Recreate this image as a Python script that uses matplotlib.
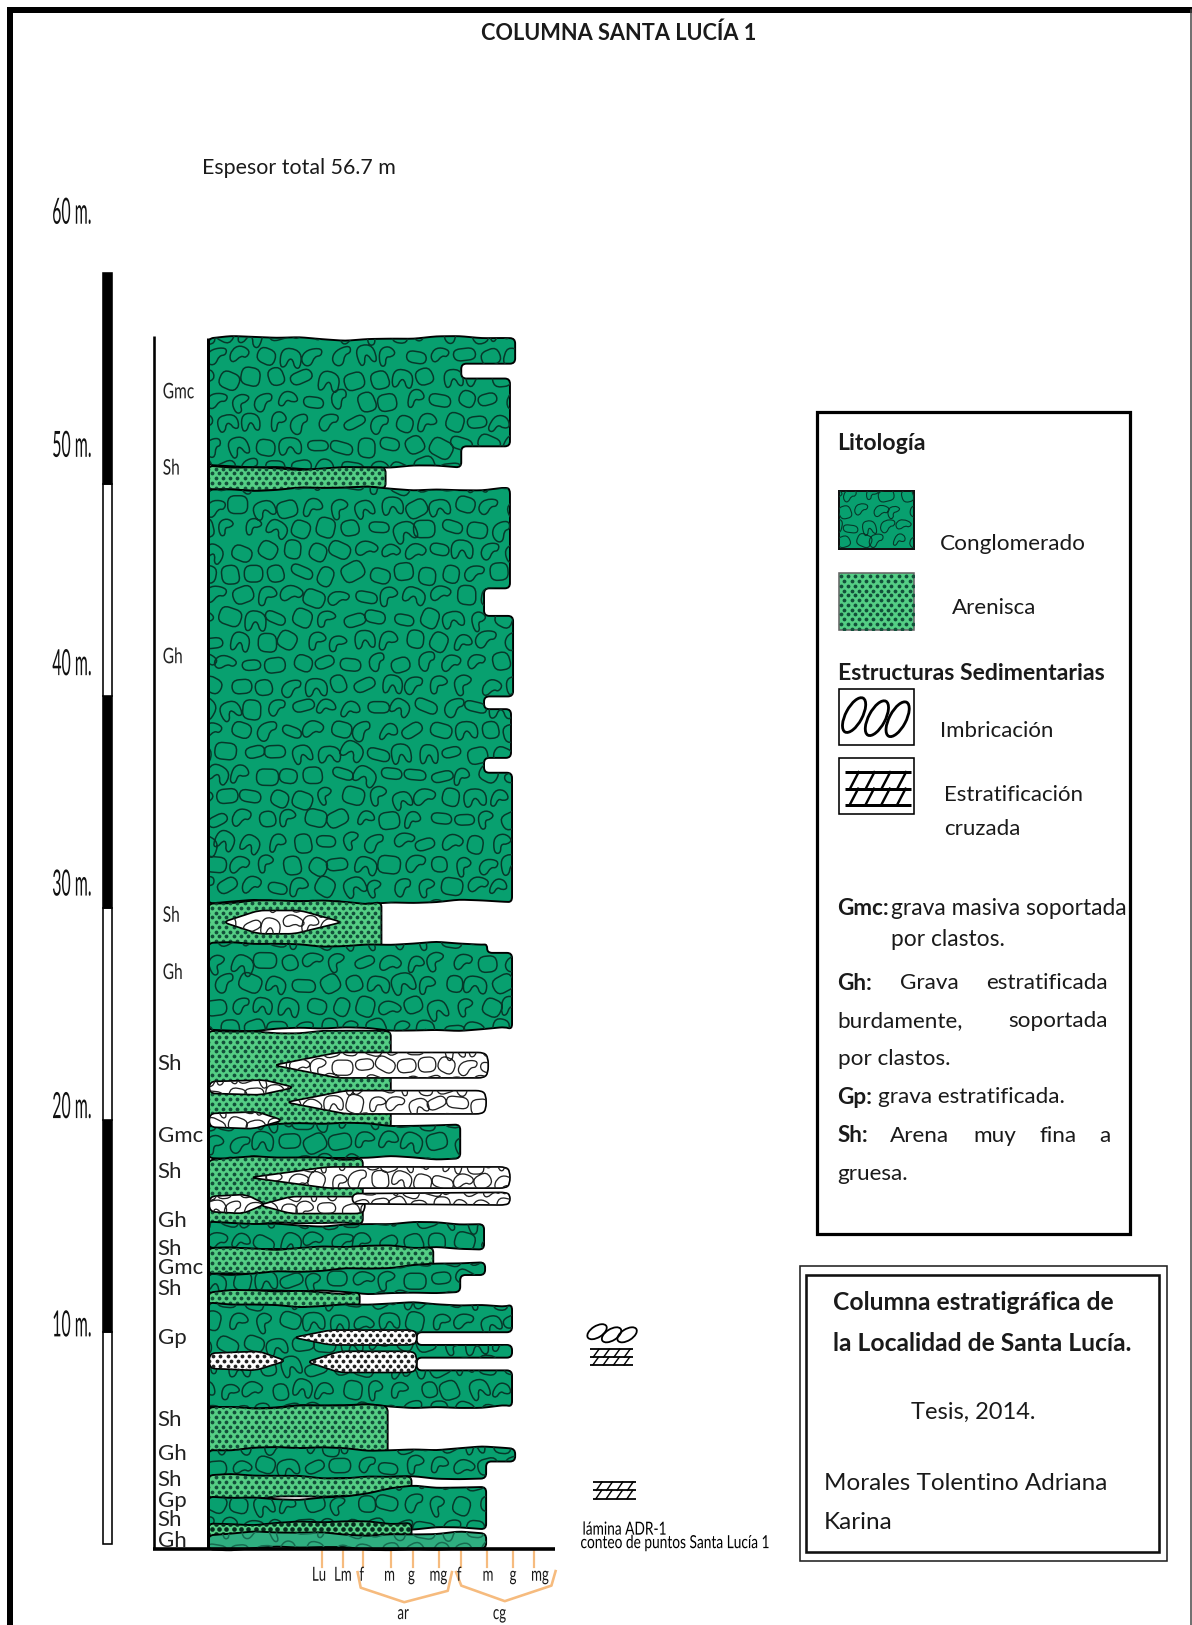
import numpy as np
import matplotlib
matplotlib.use('Agg')
import matplotlib.pyplot as plt
from matplotlib.path import Path
from matplotlib.patches import PathPatch, Rectangle, Ellipse
from matplotlib.patheffects import AbstractPathEffect
from matplotlib.transforms import Affine2D

# columna: cada escalon = (unidad, base, techo en metros, borde derecho)
unit_rock = ['cg', 'ar', 'cg', 'ar', 'cg', 'ar', 'cg', 'ar', 'cg', 'ar', 'cg', 'ar', 'cg', 'ar', 'cg', 'ar', 'cg', 'ar2', 'cg2']
step_unit = [0, 0, 0, 0, 1, 2, 2, 2, 2, 2, 2, 2, 3, 4, 4, 5, 6, 7, 8, 9, 10, 10, 11, 12, 12, 12, 12, 12, 13, 14, 14, 15, 16, 17, 18]
step_top = [56.9, 55.7, 55.0, 51.8, 50.8, 49.8, 45.1, 43.8, 40.0, 39.4, 37.1, 36.4, 30.3, 28.3, 27.9, 24.2, 19.8, 18.2, 15.1, 14.0, 13.3, 12.7, 11.9, 11.3, 10.0, 9.4, 8.8, 8.2, 6.5, 4.5, 3.9, 3.2, 2.7, 1.0, 0.5]
step_bot = [55.7, 55.0, 51.8, 50.8, 49.8, 45.1, 43.8, 40.0, 39.4, 37.1, 36.4, 30.3, 28.1, 27.9, 24.3, 19.6, 18.2, 15.1, 13.9, 12.8, 12.7, 11.9, 11.2, 10.0, 9.4, 8.8, 8.2, 6.5, 4.2, 3.9, 3.1, 2.2, 0.7, 0.2, -0.2]
step_right = [497, 445, 492, 445, 372, 492, 467, 495, 467, 493, 467, 494, 368, 470, 494, 377, 444, 350, 467, 418, 468, 444, 347, 494, 402, 494, 402, 494, 374, 497, 469, 397, 469, 397, 469]
# techos inclinados: la unidad baja hacia la izquierda
slope_unit = [10, 16]
slope_left = [12.8, 2.2]
slope_from = [300, 330]
slope_to = [420, 400]

# lentes blancos dentro de las capas
lens_left = [215, 264, 202, 276, 202, 241, 202, 250, 340, 283, 202, 296]
lens_right = [330, 471, 284, 469, 273, 492, 256, 352, 492, 402, 276, 402]
lens_bot = [28.8, 22.0, 21.2, 20.3, 19.6, 16.8, 15.6, 15.6, 16.0, 9.4, 8.2, 8.1]
lens_top = [29.9, 23.2, 21.9, 21.4, 20.4, 17.8, 16.5, 16.4, 16.6, 10.1, 9.1, 9.1]
lens_tip = ['LR', 'L', 'R', 'L', 'R', 'L', 'R', 'L', '', 'L', 'R', 'L']
lens_rock = ['cg', 'cg', 'cg', 'cg', 'cg', 'cg', 'cg', 'cg', 'cg', 'ar', 'ar', 'ar']

scale_tops = [10, 20, 30, 40, 50, 60]
scale_colors = ['white', 'black', 'white', 'black', 'white', 'black']
scale_label_y = [10.3, 20.6, 31.1, 41.5, 51.8, 62.8]

facies_narrow = ['Gmc', 'Sh', 'Gh', 'Sh', 'Gh']
facies_narrow_y = [54.4, 50.8, 41.9, 29.7, 27.0]
facies = ['Sh', 'Gmc', 'Sh', 'Gh', 'Sh', 'Gmc', 'Sh', 'Gp', 'Sh', 'Gh', 'Sh', 'Gp', 'Sh', 'Gh']
facies_y = [22.7, 19.3, 17.6, 15.3, 14.0, 13.1, 12.1, 9.8, 5.9, 4.3, 3.1, 2.1, 1.2, 0.2]

grain_labels = ['Lu', 'Lm', 'f', 'm', 'g', 'mg', 'f', 'm', 'g', 'mg']
grain_x = [311, 331, 350, 377, 398, 424, 445, 470, 495, 515]

VERDE = '#08a06f'
VERDE2 = '#2fae80'
ARENA = '#55cf85'
LINEA = '#07382a'
NARANJA = '#f6bb7e'
MPX = 20.45   # pixeles por metro
SANS = ['Lato', 'DejaVu Sans']
px = 0.72


class Squeeze(AbstractPathEffect):
    # angosta el texto en horizontal, sigue siendo texto
    def __init__(self, sx, center=False):
        super().__init__()
        self.sx = sx
        self.center = center

    def draw_path(self, renderer, gc, tpath, affine, rgbFace=None):
        tr = Affine2D().scale(self.sx, 1)
        if self.center:
            tr = tr.translate(tpath.get_extents().x1 * (1 - self.sx) / 2, 0)
        renderer.draw_path(gc, tpath, tr + affine, rgbFace)


fig = plt.figure(figsize=(11.92, 16.25), dpi=100, facecolor='white')
page = fig.add_axes([0, 0, 1, 1])
page.set_xlim(0, 1150)
page.set_ylim(1568, 0)
page.axis('off')
ax = fig.add_axes([0, 0, 1, 1], zorder=2)
ax.set_xlim(0, 1150)
ax.set_ylim((1490 - 1568) / MPX, 1490 / MPX)
ax.axis('off')


def rounded(verts, r, ysc=1.0):
    # poligono cerrado con esquinas suaves (curvas cuadraticas)
    v = [np.array(p, float) for p in verts]
    n = len(v)
    pts, codes = [], []
    for i in range(n):
        a, b, c = v[i - 1], v[i], v[(i + 1) % n]
        da = (a - b) * [1, ysc]
        dc = (c - b) * [1, ysc]
        la, lc = np.hypot(*da), np.hypot(*dc)
        ra, rc = min(r, la / 2), min(r, lc / 2)
        p1 = b + (a - b) * (ra / max(la, 1e-6))
        p2 = b + (c - b) * (rc / max(lc, 1e-6))
        pts.append(p1)
        codes.append(Path.MOVETO if i == 0 else Path.LINETO)
        pts += [b, p2]
        codes += [Path.CURVE3, Path.CURVE3]
    pts.append(pts[0])
    codes.append(Path.CLOSEPOLY)
    return Path(pts, codes)


blobs = [
    [(-1, -.8), (1, -.8), (1, .8), (-1, .8)],
    [(-1, .9), (-1, -.6), (-.2, -1), (1, -.6), (1, .9), (.45, .9), (.2, .1), (-.2, .1), (-.45, .9)],
    [(-1, -.2), (-.3, -.9), (1, -.7), (.8, .1), (.2, 0), (-.3, .9), (-.9, .7)],
    [(-.8, -.9), (.8, -.9), (.9, .9), (-.8, .8)],
    [(-1.1, -.5), (.9, -.7), (1.1, .4), (-.9, .6)],
    [(-.9, .8), (-.8, -.7), (.2, -1), (.9, -.3), (.4, .1), (-.2, 0), (-.3, .9)],
]


def jit(i, j, k):
    # desplazamiento fijo de la textura, no son datos
    s = np.sin(i * 12.9898 + j * 78.233 + k * 37.719) * 43758.5453
    return s - np.floor(s)


def clasts(host, tr, x0, x1, y0, y1, clip, sp=24.0, zorder=3, color=LINEA, lw=1.5, scale=1.0):
    paths = []
    rows = int((y1 - y0) / (sp * .9)) + 2
    cols = int((x1 - x0) / sp) + 2
    for j in range(rows):
        for i in range(cols):
            ii, jj = i + int(x0 / sp), j + int(y0 / sp)
            cx = x0 + i * sp + (j % 2) * sp * .5 + (jit(ii, jj, 1) - .5) * 6
            cy = y0 + j * sp * .9 + (jit(ii, jj, 2) - .5) * 5
            t = int(jit(ii, jj, 3) * len(blobs))
            ang = (jit(ii, jj, 4) - .5) * 1.0
            sx = (8.6 + 2.6 * jit(ii, jj, 5)) * scale
            sy = (8.4 + 2.4 * jit(ii, jj, 6)) * scale
            ca, sa = np.cos(ang), np.sin(ang)
            pts = []
            for (a, b) in blobs[t]:
                a, b = a * sx, b * sy
                pts.append((cx + a * ca - b * sa, cy + a * sa + b * ca))
            paths.append(rounded(pts, 7 * scale))
    p = PathPatch(Path.make_compound_path(*paths), fc='none', ec=color, lw=lw * px, transform=tr, zorder=zorder)
    host.add_patch(p)
    p.set_clip_path(clip)


def dots(host, tr, x0, x1, y0, y1, clip, zorder=3, s=7.5, color='#12503a'):
    xs, ys = [], []
    y, j = y0, 0
    while y < y1:
        row = np.arange(x0 + (j % 2) * 3.5, x1, 7.0)
        xs += list(row)
        ys += [y] * len(row)
        y += 4.6
        j += 1
    c = host.scatter(xs, ys, s=s, c=color, marker='o', linewidths=0, transform=tr, zorder=zorder)
    c.set_clip_path(clip)


def wave(x0, x1, y, phase, amp=1.6):
    xs = np.arange(x0, x1, 22.0)
    return [(x, y + amp / MPX * np.sin(x / 31.0 + phase) + .6 * amp / MPX * np.sin(x / 11.0 + phase * 2)) for x in xs]


# capas, de arriba a abajo
step_unit = np.array(step_unit)
for u, rock in enumerate(unit_rock):
    idx = np.where(step_unit == u)[0]
    tops = [step_top[i] for i in idx]
    bots = [step_bot[i] for i in idx]
    rights = [step_right[i] for i in idx]
    verts = wave(201, rights[0] - 4, tops[0], u * 1.7)
    if u in slope_unit:
        k = slope_unit.index(u)
        drop = np.interp([p[0] for p in verts], [slope_from[k], slope_to[k]], [tops[0] - slope_left[k], 0])
        verts = [(p[0], p[1] - d) for p, d in zip(verts, drop)]
    verts.append((rights[0], tops[0]))
    for k in range(len(idx)):
        verts.append((rights[k], bots[k]))
        if k + 1 < len(idx):
            verts.append((rights[k + 1], bots[k]))
    verts += wave(201, rights[-1] - 4, bots[-1], u * 2.3 + 1)[::-1]
    fill = {'cg': VERDE, 'cg2': VERDE2, 'ar': ARENA, 'ar2': ARENA}[rock]
    z = 2 + (0.1 * u)
    patch = PathPatch(rounded(verts, 5, MPX), fc=fill, ec='black', lw=1.9 * px, zorder=z + .05)
    ax.add_patch(patch)
    ytop, ybot = 1490 - max(tops) * MPX, 1490 - min(bots) * MPX
    if rock in ('cg', 'cg2'):
        clasts(ax, page.transData, 196, max(rights) + 6, ytop - 4, ybot + 6, patch, zorder=z + .06,
               color=LINEA if rock == 'cg' else '#176b50')
    else:
        dots(ax, page.transData, 201, max(rights) + 4, ytop + 1, ybot + 2, patch, zorder=z + .06,
             s=7.5 if rock == 'ar' else 11, color='#12503a' if rock == 'ar' else '#06291d')

# lentes
for i in range(len(lens_left)):
    l, r, b, t = lens_left[i], lens_right[i], lens_bot[i], lens_top[i]
    w, m = r - l, (b + t) / 2
    verts = []
    if 'L' in lens_tip[i]:
        verts += [(l, m), (l + .3 * w, t)]
    else:
        verts += [(l, b + .1 * (t - b)), (l, t - .1 * (t - b))]
    if 'R' in lens_tip[i]:
        verts += [(l + .65 * w, t), (r, m), (l + .6 * w, b)]
    else:
        verts += [(r - 4, t), (r, t - .2 * (t - b)), (r, b + .2 * (t - b)), (r - 4, b)]
    if 'L' in lens_tip[i]:
        verts += [(l + .3 * w, b)]
    patch = PathPatch(rounded(verts, 6, MPX), fc='white', ec='black', lw=1.7 * px, zorder=5 + i * .01)
    ax.add_patch(patch)
    ytop, ybot = 1490 - t * MPX, 1490 - b * MPX
    if lens_rock[i] == 'cg':
        clasts(ax, page.transData, l - 4, r + 4, ytop - 4, ybot + 4, patch, sp=20, zorder=5.005 + i * .01,
               color='#222222', lw=1.3, scale=.95)
    else:
        dots(ax, page.transData, l, r, ytop, ybot, patch, zorder=5.005 + i * .01, s=7.5, color='#222222')

# escala grafica, barras en metros
for top, col in zip(scale_tops, scale_colors):
    ax.bar(103.5, 10, bottom=top - 10, width=9, color=col, edgecolor='black', linewidth=1.6 * px, zorder=2)

for val, y in zip(scale_tops, scale_label_y):
    ax.text(70, y, '%d m.' % val, family=SANS, fontsize=26, ha='center', va='center', color='#111111',
            path_effects=[Squeeze(.44, True)])

for name, y in zip(facies_narrow, facies_narrow_y):
    ax.text(157, y - .05, name, family=SANS, fontsize=15.5, ha='left', va='center', color='#222222',
            path_effects=[Squeeze(.72)])
for name, y in zip(facies, facies_y):
    ax.text(152, y - .05, name, family=SANS, fontsize=16, ha='left', va='center', color='#222222')

# ejes de la columna
ax.plot([149, 149], [57.0, -0.25], color='black', lw=2.6 * px, zorder=6, solid_capstyle='butt')
ax.plot([201, 201], [56.9, -0.25], color='black', lw=3 * px, zorder=9, solid_capstyle='butt')
ax.plot([148, 535], [-0.25, -0.25], color='black', lw=3.6 * px, zorder=9, solid_capstyle='butt')

# marco de la pagina
page.plot([9.5, 9.5, 1150], [1568, 9.5, 9.5], color='black', lw=6 * px, solid_joinstyle='miter')
page.plot([1149, 1149], [10, 1568], color='#444444', lw=1.5 * px)


def label(x, y, s, size=16, bold=False, ha='left', sx=None, color='#1a1a1a'):
    fx = [Squeeze(sx, ha == 'center')] if sx else None
    page.text(x - 1, y + 1, s, family=SANS, fontsize=size, fontweight='bold' if bold else 'normal',
              ha=ha, va='center', color=color, path_effects=fx)


label(598, 31, 'COLUMNA SANTA LUCÍA 1', 15.7, True, 'center')
label(196, 161, 'Espesor total 56.7 m', 15.4)

# escala de grano
for x in grain_x:
    page.plot([x, x], [1497, 1512], color=NARANJA, lw=2.2 * px)
grain_text_x = [309, 332, 350, 377, 398, 424, 444, 472, 496, 522]
for x, s in zip(grain_text_x, grain_labels):
    label(x, 1519, s, 14, ha='center', sx=.68)
page.plot([345, 348, 390, 432, 436], [1517, 1532, 1546, 1535, 1517], color=NARANJA, lw=2.6 * px)
page.plot([440, 445, 487, 532, 536], [1517, 1530, 1545, 1530, 1516], color=NARANJA, lw=2.6 * px)
label(390, 1556, 'ar', 14, ha='center', sx=.68)
label(483, 1556, 'cg', 14, ha='center', sx=.68)


def cross(x0, x1, y0, y1, lw):
    ym = (y0 + y1) / 2
    for y in (y0, ym, y1):
        page.plot([x0, x1], [y, y], color='black', lw=lw * px, solid_capstyle='butt')
    dx = (x1 - x0) / 4.2
    for row, (a, b) in enumerate(((y0, ym), (ym, y1))):
        for k in range(4):
            xb = x0 + (0.55 - .05 * row) * dx * .6 + k * dx
            page.plot([xb, xb + dx * .55], [b, a], color='black', lw=lw * .8 * px)


# columna de simbolos
for cx, cy in zip((576, 590, 605), (1285, 1288, 1288)):
    page.add_patch(Ellipse((cx, cy), 21, 11, angle=-32, fc='none', ec='black', lw=1.8 * px))
cross(569, 611, 1302, 1317, 1.8)
cross(572, 614, 1430, 1446, 1.8)
label(563, 1475, 'lámina ADR-1', 13, sx=.76, color='black')
label(561, 1488, 'conteo de puntos Santa Lucía 1', 13, sx=.76, color='black')

# leyenda
page.add_patch(Rectangle((788, 398), 302.5, 793, fc='none', ec='black', lw=3.2 * px))
label(809, 427, 'Litología', 16.6, True)

sw1 = Rectangle((809, 474), 73, 56, fc=VERDE, ec='#111111', lw=2 * px, zorder=2)
page.add_patch(sw1)
clasts(page, page.transData, 806, 888, 478, 532, sw1, sp=17, zorder=3, scale=.7, lw=1.1)
sw2 = Rectangle((809, 553), 73, 55, fc=ARENA, ec='#666666', lw=1.6 * px, zorder=2)
page.add_patch(sw2)
dots(page, page.transData, 811, 882, 556, 608, sw2, zorder=3, s=7.5)
label(908, 524, 'Conglomerado', 16.2)
label(919, 586, 'Arenisca', 16)
label(809, 649, 'Estructuras Sedimentarias', 16.6, True)
page.add_patch(Rectangle((809, 665), 73, 54, fc='none', ec='black', lw=1.6 * px))
for cx, cy in zip((824, 846, 866), (690, 693, 694)):
    page.add_patch(Ellipse((cx, cy), 37, 16, angle=-62, fc='none', ec='black', lw=2.8 * px))
page.add_patch(Rectangle((809, 731), 73, 54, fc='none', ec='black', lw=1.6 * px))
cross(815, 879, 745, 777, 3.0)
label(908, 704, 'Imbricación', 16)
label(912, 766, 'Estratificación', 16)
label(912, 799, 'cruzada', 16)

label(809, 876, 'Gmc:', 16.2, True)
label(861, 876, 'grava masiva soportada', 16.4)
label(861, 906, 'por clastos.', 16.4)
label(809, 948, 'Gh:', 16.2, True)
label(869, 948, 'Grava', 16.2)
label(952, 948, 'estratificada', 16.2)
label(809, 984, 'burdamente,', 16.2)
label(974, 984, 'soportada', 16.2)
label(809, 1021, 'por clastos.', 16.2)
label(809, 1058, 'Gp:', 16.2, True)
label(848, 1058, 'grava estratificada.', 16.2)
label(809, 1095, 'Sh:', 16.2, True)
label(860, 1095, 'Arena', 16.2)
label(940, 1095, 'muy', 16.2)
label(1004, 1095, 'fina', 16.2)
label(1062, 1095, 'a', 16.2)
label(809, 1132, 'gruesa.', 16.2)

# recuadro de titulo
page.add_patch(Rectangle((772, 1222), 353.5, 284, fc='none', ec='#222222', lw=1.6 * px))
page.add_patch(Rectangle((778, 1230), 340, 268, fc='none', ec='#111111', lw=2.6 * px))
label(805, 1256, 'Columna estratigráfica de', 17.7, True)
label(805, 1295, 'la Localidad de Santa Lucía.', 17.7, True)
label(880, 1362, 'Tesis, 2014.', 17)
label(796, 1430, 'Morales Tolentino Adriana', 17.5)
label(796, 1468, 'Karina', 17.5)

fig.savefig('out.png', dpi=100, facecolor='white')
